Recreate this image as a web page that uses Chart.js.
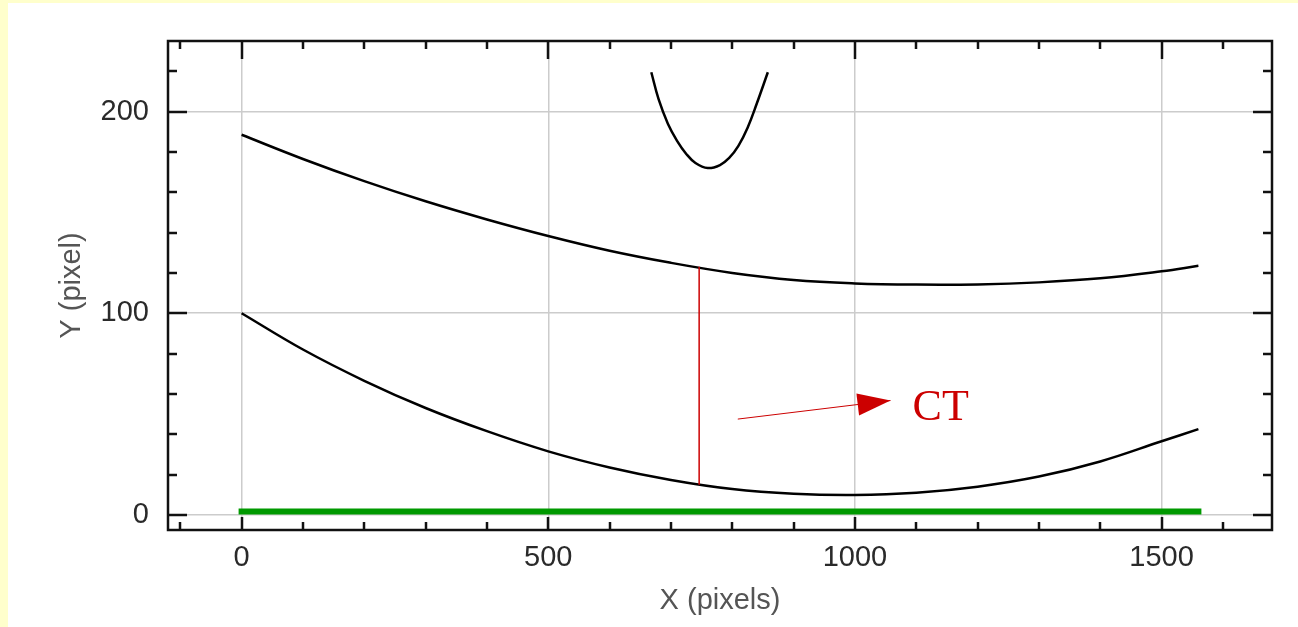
<!DOCTYPE html>
<html>
<head>
<meta charset="utf-8">
<script src="https://cdn.jsdelivr.net/npm/chart.js@4/dist/chart.umd.min.js"></script>
<style>
    html, body { margin: 0; padding: 0; background: #ffffcc; }
    #panel { position: absolute; left: 8px; top: 3px; width: 1290px; height: 624px; background: #ffffff; }
</style>
</head>
<body>
<div id="panel"><canvas id="profileChart" width="1290" height="624"></canvas></div>
<script>
// curve data
const upperX = [0, 100, 200, 300, 400, 500, 600, 700, 800, 900, 1000, 1100, 1200, 1300, 1400, 1500, 1560];
const upperY = [188.5, 176.5, 165.5, 155.5, 146.5, 138.3, 131, 125, 120, 116.5, 114.8, 114.2, 114.3, 115.3, 117.3, 120.8, 123.5];

const lowerX = [0, 100, 200, 300, 400, 500, 600, 700, 800, 900, 1000, 1100, 1200, 1300, 1400, 1500, 1560];
const lowerY = [100, 82, 66.5, 53, 41.5, 31.5, 23.5, 17.3, 12.8, 10.5, 9.9, 11, 14, 19, 26.5, 36.5, 42.5];

const topX = [668, 680, 695, 710, 725, 740, 760, 780, 795, 810, 825, 840, 858];
const topY = [219.5, 206, 194, 185.5, 179, 174.5, 172, 173.5, 177, 183, 192, 204, 219.5];

const baseX = [0, 1560];
const baseY = [1.7, 1.7];

// CT annotation
const ctLineX = [746, 746];
const ctLineY = [15, 123];
const arrowX = [809, 1058];
const arrowY = [47.5, 56.7];
const ctLabel = "CT";
const ctLabelPos = [1094, 47];

// axes
const xMajorTicks = [0, 500, 1000, 1500];
const yMajorTicks = [0, 100, 200];
const xMinorStep = 100;
const yMinorStep = 20;

const pts = (xs, ys) => xs.map((v, i) => ({ x: v, y: ys[i] }));

const frameAndTicks = {
    id: "frameAndTicks",
    afterDatasetsDraw(chart) {
        const { ctx, chartArea: a, scales: { x, y } } = chart;
        ctx.save();

        // arrow head + CT label
        const p0 = { x: x.getPixelForValue(arrowX[0]), y: y.getPixelForValue(arrowY[0]) };
        const p1 = { x: x.getPixelForValue(arrowX[1]), y: y.getPixelForValue(arrowY[1]) };
        const len = Math.hypot(p1.x - p0.x, p1.y - p0.y);
        const ux = (p1.x - p0.x) / len, uy = (p1.y - p0.y) / len;
        const bx = p1.x - ux * 33, by = p1.y - uy * 33;
        ctx.fillStyle = "#cc0000";
        ctx.beginPath();
        ctx.moveTo(p1.x, p1.y);
        ctx.lineTo(bx - uy * 11, by + ux * 11);
        ctx.lineTo(bx + uy * 11, by - ux * 11);
        ctx.closePath();
        ctx.fill();

        ctx.font = "44px 'Liberation Serif', 'Times New Roman', serif";
        ctx.textBaseline = "alphabetic";
        ctx.textAlign = "left";
        ctx.fillText(ctLabel, x.getPixelForValue(ctLabelPos[0]), y.getPixelForValue(ctLabelPos[1]));

        // frame
        ctx.strokeStyle = "#111111";
        ctx.lineWidth = 2.5;
        ctx.strokeRect(a.left, a.top, a.right - a.left, a.bottom - a.top);

        // inward ticks on all four sides
        ctx.beginPath();
        for (let v = Math.ceil(x.min / xMinorStep) * xMinorStep; v <= x.max; v += xMinorStep) {
            const px = Math.round(x.getPixelForValue(v));
            const major = xMajorTicks.includes(v);
            ctx.moveTo(px, a.bottom);
            ctx.lineTo(px, a.bottom - (major ? 13 : 8));
            ctx.moveTo(px, a.top);
            ctx.lineTo(px, a.top + (major ? 18 : 8));
        }
        for (let v = Math.ceil(y.min / yMinorStep) * yMinorStep; v <= y.max; v += yMinorStep) {
            const py = Math.round(y.getPixelForValue(v));
            const major = yMajorTicks.includes(v);
            ctx.moveTo(a.left, py);
            ctx.lineTo(a.left + (major ? 19 : 9), py);
            ctx.moveTo(a.right, py);
            ctx.lineTo(a.right - (major ? 19 : 9), py);
        }
        ctx.stroke();
        ctx.restore();
    }
};

const labelFont = { family: "'Liberation Sans', Arial, sans-serif", size: 29 };

new Chart(document.getElementById("profileChart"), {
    type: "scatter",
    data: {
        datasets: [
            { data: pts(ctLineX, ctLineY), borderColor: "#cc0000", borderWidth: 1.5 },
            { data: pts(arrowX, arrowY), borderColor: "#cc0000", borderWidth: 1 },
            { data: pts(upperX, upperY), borderColor: "#000000", borderWidth: 2.5, tension: 0.4 },
            { data: pts(lowerX, lowerY), borderColor: "#000000", borderWidth: 2.5, tension: 0.4 },
            { data: pts(topX, topY), borderColor: "#000000", borderWidth: 2.5, tension: 0.4 },
            { data: pts(baseX, baseY), borderColor: "#009900", borderWidth: 6, borderCapStyle: "square" }
        ]
    },
    options: {
        responsive: false,
        animation: false,
        showLine: true,
        elements: { point: { radius: 0 } },
        layout: { padding: { left: 0, top: 38, right: 26, bottom: 0 } },
        plugins: { legend: { display: false }, tooltip: { enabled: false } },
        scales: {
            x: {
                type: "linear",
                min: -120,
                max: 1680,
                afterBuildTicks: (s) => { s.ticks = xMajorTicks.map(v => ({ value: v })); },
                afterFit: (s) => { s.height = 97; },
                grid: { color: "#cccccc", lineWidth: 1.5, drawTicks: false },
                border: { display: false },
                ticks: { padding: 11, color: "#2a2a2a", font: labelFont, maxRotation: 0, callback: (v) => String(v) },
                title: { display: true, text: "X (pixels)", color: "#555555", font: labelFont, padding: { top: 0, bottom: 9 } }
            },
            y: {
                type: "linear",
                min: -7.5,
                max: 235,
                afterBuildTicks: (s) => { s.ticks = yMajorTicks.map(v => ({ value: v })); },
                afterFit: (s) => { s.width = 160; },
                grid: { color: "#cccccc", lineWidth: 1.5, drawTicks: false },
                border: { display: false },
                ticks: { padding: 19, color: "#2a2a2a", font: labelFont, callback: (v) => String(v) },
                title: { display: true, text: "Y (pixel)", color: "#555555", font: labelFont, padding: { top: 47, bottom: 0 } }
            }
        }
    },
    plugins: [frameAndTicks]
});
</script>
</body>
</html>
